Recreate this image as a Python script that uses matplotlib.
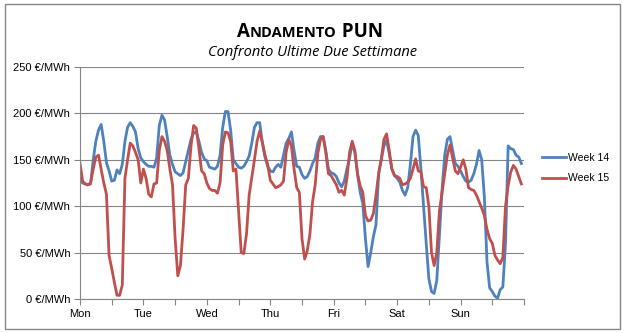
import numpy as np
import matplotlib
matplotlib.use("Agg")
import matplotlib.pyplot as plt
from matplotlib.patches import Rectangle

plt.rcParams['font.family'] = ['Liberation Sans', 'DejaVu Sans']

# dati orari (168 ore, lun -> dom)
days = ["Mon", "Tue", "Wed", "Thu", "Fri", "Sat", "Sun"]
week14 = [128, 125, 124, 123, 124, 150, 170, 182, 188, 170, 147, 138, 127, 128, 139, 135, 145, 170, 185, 190, 186, 180, 162, 152,
          148, 145, 143, 143, 142, 152, 187, 198, 193, 175, 155, 145, 137, 135, 133, 136, 148, 160, 172, 179, 180, 170, 158, 151,
          149, 142, 141, 140, 143, 155, 185, 202, 202, 182, 150, 146, 142, 141, 143, 148, 154, 168, 185, 190, 190, 168, 153, 143,
          138, 137, 142, 145, 142, 155, 168, 173, 180, 160, 143, 142, 134, 130, 132, 138, 146, 152, 168, 175, 175, 160, 140, 136,
          135, 132, 125, 121, 127, 140, 152, 168, 158, 135, 115, 103, 65, 35, 50, 67, 80, 135, 150, 165, 171, 157, 140, 133,
          130, 126, 117, 112, 120, 145, 175, 182, 176, 140, 100, 60, 22, 8, 6, 20, 70, 118, 155, 172, 175, 160, 146, 143,
          138, 132, 127, 126, 128, 135, 145, 160, 150, 110, 40, 12, 8, 3, 1, 10, 13, 60, 165, 162, 161, 155, 153, 146]
week15 = [146, 127, 124, 123, 125, 140, 153, 155, 140, 125, 113, 47, 33, 18, 4, 4, 15, 130, 150, 168, 165, 158, 150, 125,
          140, 130, 113, 110, 124, 125, 160, 175, 170, 160, 140, 123, 65, 25, 36, 75, 123, 130, 165, 187, 184, 162, 138, 135,
          125, 119, 117, 117, 114, 125, 166, 180, 179, 170, 138, 140, 95, 50, 49, 70, 112, 131, 150, 170, 181, 169, 155, 145,
          128, 124, 120, 121, 123, 127, 158, 172, 165, 140, 120, 115, 65, 43, 52, 70, 105, 123, 157, 172, 175, 158, 135, 133,
          128, 123, 115, 117, 112, 130, 158, 170, 160, 135, 122, 115, 90, 84, 85, 92, 112, 135, 151, 172, 178, 160, 140, 133,
          132, 130, 123, 124, 126, 130, 140, 151, 138, 137, 121, 120, 100, 50, 36, 50, 95, 115, 135, 155, 166, 152, 138, 135,
          142, 150, 140, 120, 118, 117, 112, 105, 98, 90, 75, 65, 60, 47, 42, 38, 45, 100, 122, 137, 144, 140, 132, 124]

blu = '#4F81BD'
rosso = '#C0504D'
grigio = '#868686'

fig = plt.figure(figsize=(6.27, 3.33), dpi=100)
ax = fig.add_axes([80/627, 1-299/333, 444/627, 232/333])

ore = np.arange(len(week14))
ax.plot(ore, week14, color=blu, lw=2.0, label="Week 14", solid_joinstyle='round')
ax.plot(ore, week15, color=rosso, lw=2.0, label="Week 15", solid_joinstyle='round')

ax.set_xlim(0, 168)
ax.set_ylim(0, 250)
ax.set_xticks(np.arange(0, 169, 12))
ax.set_xticklabels([days[i//2] if i % 2 == 0 and i < 14 else "" for i in range(15)])
ax.set_yticks(np.arange(0, 251, 50))
ax.set_yticklabels([f"{v} €/MWh" for v in range(0, 251, 50)])
ax.tick_params(axis='both', colors=grigio, labelcolor='black', labelsize=8,
               length=4, width=0.8, pad=3)
ax.grid(axis='y', color=grigio, lw=0.8)
ax.set_axisbelow(True)
for s in ['top', 'right']:
    ax.spines[s].set_visible(False)
for s in ['left', 'bottom']:
    ax.spines[s].set_color(grigio)
    ax.spines[s].set_linewidth(0.8)

leg = fig.legend(loc='center left', bbox_to_anchor=(533/627, 1-168/333),
                 frameon=False, fontsize=7.5, handlelength=2.3,
                 handletextpad=0.2, labelspacing=1.0)

# titolo in maiuscoletto
r = fig.canvas.get_renderer()
pezzi = [("A", 13.5), ("NDAMENTO", 10.5), (" PUN", 13.5)]
testi = []
for t, fs in pezzi:
    testi.append(fig.text(0, 1-37/333, t, fontsize=fs, fontweight='bold',
                          family=['Open Sans', 'DejaVu Sans'], va='baseline', ha='left'))
larg = [tt.get_window_extent(r).width for tt in testi]
x0 = 310 - sum(larg)/2
for tt, w in zip(testi, larg):
    tt.set_x(x0/627)
    x0 += w

fig.text(312/627, 1-52/333, "Confronto Ultime Due Settimane", fontsize=10.5,
         style='italic', family=['Open Sans', 'DejaVu Sans'], ha='center', va='center')

fig.patches.append(Rectangle((5/627, 4/333), 615/627, 325/333, transform=fig.transFigure,
                             fill=False, edgecolor=grigio, lw=1.0))

fig.savefig("out.png", dpi=100)
